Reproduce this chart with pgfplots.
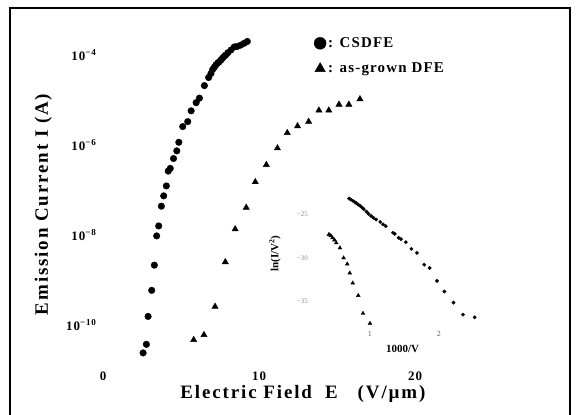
\documentclass[border=0pt]{standalone}
\usepackage{fontspec}
\setmainfont{Liberation Serif}
\newfontfamily\widefont[LetterSpace=10]{Liberation Serif}
\newfontfamily\tickfont[LetterSpace=8]{Liberation Serif}
\usepackage{pgfplots}
\pgfplotsset{compat=1.18}

\pgfplotstableread{
x     y
2.57  2.40e-11
2.78  3.72e-11
2.89  1.55e-10
3.12  5.89e-10
3.29  2.14e-9
3.44  9.55e-9
3.57  1.59e-8
3.74  4.37e-8
3.89  7.41e-8
4.06  1.23e-7
4.18  2.63e-7
4.31  3.02e-7
4.52  5.01e-7
4.73  7.41e-7
4.86  1.15e-6
5.11  2.57e-6
5.43  3.31e-6
5.65  5.75e-6
5.97  8.71e-6
6.18  1.10e-5
6.50  2.09e-5
6.77  3.16e-5
6.92  3.89e-5
7.03  4.79e-5
7.14  5.37e-5
7.24  6.03e-5
7.35  6.61e-5
7.45  7.08e-5
7.56  7.76e-5
7.66  8.51e-5
7.77  9.33e-5
7.87  1.00e-4
8.00  1.12e-4
8.20  1.29e-4
8.41  1.51e-4
8.60  1.55e-4
8.83  1.66e-4
9.05  1.82e-4
9.25  2.00e-4
}\csdfe

\pgfplotstableread{
x      y
5.81   4.68e-11
6.47   6.03e-11
7.18   2.57e-10
7.84   2.51e-9
8.47   1.35e-8
9.18   4.07e-8
9.76   1.51e-7
10.47  3.63e-7
11.18  8.51e-7
11.81  1.86e-6
12.47  2.63e-6
13.18  3.31e-6
13.84  5.89e-6
14.47  5.89e-6
15.13  7.94e-6
15.76  7.94e-6
16.47  1.05e-5
}\asgrown

\pgfplotstableread{
x      y
0.404  -27.31
0.430  -27.45
0.457  -27.69
0.485  -27.95
0.511  -28.27
0.564  -28.85
0.617  -30.00
0.670  -30.69
0.707  -31.73
0.750  -32.88
0.830  -34.31
0.899  -36.35
1.000  -37.50
}\fnasgrown

\pgfplotstableread{
x      y
0.697  -23.19
0.720  -23.30
0.750  -23.45
0.780  -23.60
0.803  -23.73
0.830  -23.90
0.860  -24.05
0.890  -24.25
0.910  -24.42
0.950  -24.70
0.980  -24.95
1.016  -25.19
1.050  -25.40
1.090  -25.60
1.149  -25.88
1.190  -26.15
1.229  -26.35
1.335  -27.12
1.360  -27.25
1.415  -27.69
1.450  -27.85
1.521  -28.19
1.601  -28.96
1.681  -29.42
1.787  -30.77
1.867  -31.15
1.973  -32.62
2.080  -33.85
2.213  -35.12
2.350  -36.50
2.520  -36.80
}\fncsdfe

\begin{document}
\begin{tikzpicture}
\useasboundingbox (0,0) rectangle (576bp,415bp);
\draw[line width=1.3bp] (10bp,0) -- (10bp,407bp) -- (570bp,407bp) -- (570bp,0);

% main plot
\begin{axis}[
  at={(99.9bp,45bp)}, anchor=south west,
  scale only axis, width=471.1bp, height=360bp,
  xmin=-0.2, xmax=30,
  ymode=log, ymin=1e-11, ymax=1e-3,
  axis line style={draw=none}, tick style={draw=none},
  xtick={0,10,20}, xticklabels={0,10,20},
  ytick={1e-10,1e-8,1e-6,1e-4},
  yticklabels={10\textsuperscript{−10},10\textsuperscript{−8},10\textsuperscript{−6},10\textsuperscript{−4}},
  ticklabel style={font=\fontsize{13}{13}\selectfont\tickfont\bfseries},
  xticklabel style={yshift=2bp},
  xlabel={\widefont\bfseries Electric Field \ E \ \ (V/\textmu m)},
  ylabel={\widefont\bfseries Emission Current I (A)},
  xlabel style={at={(axis description cs:0.431,-0.066)}, anchor=center,
    font=\fontsize{19}{19}\selectfont},
  ylabel style={at={(axis description cs:-0.12,0.46)}, anchor=center,
    font=\fontsize{19}{19}\selectfont},
  legend style={at={(axis description cs:0.448,0.935)}, anchor=north west,
    draw=none, fill=none, font=\fontsize{15}{15}\selectfont\tickfont\bfseries,
    row sep=10bp},
  legend cell align=left,
]
\addlegendimage{only marks, mark=*, mark size=6bp, black}
\addlegendentry{: CSDFE}
\addlegendimage{only marks, mark=triangle*, mark size=6bp, black}
\addlegendentry{: as-grown DFE}
\addplot[only marks, mark=*, mark size=3.3bp, black, forget plot] table {\csdfe};
\addplot[only marks, mark=triangle*, mark size=3.6bp, black, forget plot] table {\asgrown};
\end{axis}

% inset Fowler-Nordheim plot
\begin{axis}[
  at={(311.4bp,87.2bp)}, anchor=south west,
  scale only axis, width=168.8bp, height=139.7bp,
  xmin=0.15, xmax=2.6, ymin=-38, ymax=-22,
  axis line style={draw=none}, tick style={draw=none},
  xtick={1,2}, xticklabels={1,2},
  ytick={-35,-30,-25}, yticklabels={−35,−30,−25},
  yticklabel style={font=\fontsize{7}{7}\selectfont, text=black!45},
  xticklabel style={font=\fontsize{8}{8}\selectfont, text=black!60},
  xlabel={\bfseries 1000/V},
  ylabel={\bfseries ln(I/V\textsuperscript{2})},
  xlabel style={at={(axis description cs:0.54,-0.15)}, anchor=center,
    font=\fontsize{11}{11}\selectfont},
  ylabel style={at={(axis description cs:-0.216,0.53)}, anchor=center,
    font=\fontsize{11}{11}\selectfont},
]
\addplot[only marks, mark=triangle*, mark size=2.2bp, black] table {\fnasgrown};
\addplot[only marks, mark=*, mark size=1.7bp, black] table {\fncsdfe};
\end{axis}
\end{tikzpicture}
\end{document}
